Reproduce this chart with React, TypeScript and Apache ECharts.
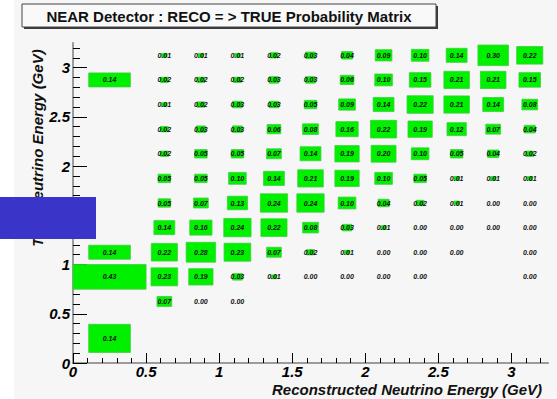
import React, { useEffect, useRef } from "react";
import * as echarts from "echarts";

// Bin edges (GeV), shared by both axes
const xEdges = [0, 0.5, 0.75, 1, 1.25, 1.5, 1.75, 2, 2.25, 2.5, 2.75, 3, 3.25];
const yEdges = [0, 0.5, 0.75, 1, 1.25, 1.5, 1.75, 2, 2.25, 2.5, 2.75, 3, 3.25];

// Probability matrix rows, bottom (true 0-0.5) to top (true 3.0-3.25); null = empty bin
const row00 = [0.14, null, null, null, null, null, null, null, null, null, null, null];
const row01 = [null, 0.07, 0.0, 0.0, null, null, null, null, null, null, null, null];
const row02 = [0.43, 0.23, 0.19, 0.03, 0.01, 0.0, 0.0, 0.0, 0.0, null, null, 0.0];
const row03 = [0.14, 0.22, 0.28, 0.23, 0.07, 0.02, 0.01, 0.0, 0.0, 0.0, null, 0.0];
const row04 = [null, 0.14, 0.16, 0.24, 0.22, 0.08, 0.03, 0.01, 0.0, 0.0, 0.0, 0.0];
const row05 = [null, 0.05, 0.07, 0.13, 0.24, 0.24, 0.1, 0.04, 0.02, 0.01, 0.0, 0.0];
const row06 = [null, 0.05, 0.05, 0.1, 0.14, 0.21, 0.19, 0.1, 0.05, 0.01, 0.01, 0.01];
const row07 = [null, 0.02, 0.05, 0.05, 0.07, 0.14, 0.19, 0.2, 0.1, 0.05, 0.04, 0.02];
const row08 = [null, 0.02, 0.03, 0.03, 0.06, 0.08, 0.16, 0.22, 0.19, 0.12, 0.07, 0.04];
const row09 = [null, 0.01, 0.02, 0.03, 0.03, 0.05, 0.09, 0.14, 0.22, 0.21, 0.14, 0.08];
const row10 = [0.14, 0.02, 0.02, 0.02, 0.03, 0.03, 0.06, 0.1, 0.15, 0.21, 0.21, 0.15];
const row11 = [null, 0.01, 0.01, 0.01, 0.02, 0.03, 0.04, 0.09, 0.1, 0.14, 0.3, 0.22];
const rows = [row00, row01, row02, row03, row04, row05, row06, row07, row08, row09, row10, row11];

const majorTicks = [0, 0.5, 1, 1.5, 2, 2.5, 3];
const minorTicks = [
  0.1, 0.2, 0.3, 0.4, 0.6, 0.7, 0.8, 0.9, 1.1, 1.2, 1.3, 1.4, 1.6, 1.7, 1.8, 1.9,
  2.1, 2.2, 2.3, 2.4, 2.6, 2.7, 2.8, 2.9, 3.1, 3.2,
];

const FONT = '"Liberation Sans", Arial, Helvetica, sans-serif';

export default function App() {
  const ref = useRef<HTMLDivElement>(null);
  useEffect(() => {
    if (!ref.current) return;
    const chart = echarts.init(ref.current, undefined, { renderer: "svg" });

    const data: number[][] = [];
    let vmax = 0;
    rows.forEach((r, j) =>
      r.forEach((v, i) => {
        if (v === null || v === undefined) return;
        data.push([xEdges[i], xEdges[i + 1], yEdges[j], yEdges[j + 1], v]);
        if (v > vmax) vmax = v;
      })
    );

    const labelStyle = {
      fontSize: 15,
      fontWeight: "bold" as const,
      fontStyle: "italic" as const,
      color: "#000",
      fontFamily: FONT,
    };

    const frameAxis = (pos: string) => ({
      type: "value",
      min: 0,
      max: 3.25,
      position: pos,
      axisLine: { show: true, lineStyle: { color: "#9c9c9c", width: 2 } },
      axisTick: { show: false },
      axisLabel: { show: false },
      splitLine: { show: false },
    });

    chart.setOption({
      animation: false,
      backgroundColor: "#f5f6f5",
      grid: { left: 73, top: 43, width: 475, height: 320 },
      xAxis: [
        {
          type: "value",
          min: 0,
          max: 3.25,
          position: "bottom",
          axisLine: { show: true, onZero: false, lineStyle: { color: "#000", width: 1 } },
          axisTick: { show: true, inside: true, length: 10, customValues: majorTicks, lineStyle: { color: "#000" } },
          axisLabel: { ...labelStyle, margin: 1, customValues: majorTicks, formatter: (v: number) => String(v) },
          splitLine: { show: false },
        },
        {
          type: "value",
          min: 0,
          max: 3.25,
          position: "bottom",
          axisLine: { show: false },
          axisTick: { show: true, inside: true, length: 5, customValues: minorTicks, lineStyle: { color: "#000" } },
          axisLabel: { show: false },
          splitLine: { show: false },
        },
        frameAxis("top"),
      ],
      yAxis: [
        {
          type: "value",
          min: 0,
          max: 3.25,
          position: "left",
          axisLine: { show: true, onZero: false, lineStyle: { color: "#000", width: 1 } },
          axisTick: { show: true, inside: true, length: 14, customValues: majorTicks, lineStyle: { color: "#000" } },
          axisLabel: { ...labelStyle, margin: 3, customValues: majorTicks, formatter: (v: number) => String(v) },
          splitLine: { show: false },
        },
        {
          type: "value",
          min: 0,
          max: 3.25,
          position: "left",
          axisLine: { show: false },
          axisTick: { show: true, inside: true, length: 7, customValues: minorTicks, lineStyle: { color: "#000" } },
          axisLabel: { show: false },
          splitLine: { show: false },
        },
        frameAxis("right"),
      ],
      series: [
        {
          type: "custom",
          xAxisIndex: 0,
          yAxisIndex: 0,
          encode: { x: [0, 1], y: [2, 3] },
          data,
          renderItem: (params: any, api: any) => {
            const p0 = api.coord([api.value(0), api.value(2)]);
            const p1 = api.coord([api.value(1), api.value(3)]);
            const v = api.value(4);
            const cx = (p0[0] + p1[0]) / 2;
            const cy = (p0[1] + p1[1]) / 2;
            const w = Math.abs(p1[0] - p0[0]);
            const h = Math.abs(p1[1] - p0[1]);
            const f = Math.sqrt(v / vmax);
            const children: any[] = [];
            if (v > 0) {
              children.push({
                type: "rect",
                shape: { x: cx - (w * f) / 2, y: cy - (h * f) / 2, width: w * f, height: h * f },
                style: { fill: "#00f000", stroke: "#3ccf3c", lineWidth: 0.8 },
              });
            }
            children.push({
              type: "text",
              style: {
                text: v.toFixed(2),
                x: cx,
                y: cy,
                align: "center",
                verticalAlign: "middle",
                font: `italic bold 7px ${FONT}`,
                fill: "#111",
              },
            });
            return { type: "group", children };
          },
        },
      ],
      graphic: [
        {
          type: "rect",
          z: 0,
          shape: { x: 0, y: 0, width: 14, height: 399 },
          style: { fill: "#ffffff" },
        },
        {
          type: "rect",
          z: 10,
          shape: { x: 24, y: 6, width: 414, height: 23 },
          style: { fill: "#3a3a3a" },
        },
        {
          type: "rect",
          z: 11,
          shape: { x: 22, y: 4, width: 414, height: 23 },
          style: { fill: "#f8f9f8", stroke: "#444", lineWidth: 1 },
        },
        {
          type: "text",
          z: 12,
          style: {
            text: "NEAR Detector : RECO = > TRUE Probability Matrix",
            x: 229,
            y: 16,
            align: "center",
            verticalAlign: "middle",
            font: `bold 15px ${FONT}`,
            fill: "#111",
          },
        },
        {
          type: "text",
          z: 12,
          x: 37,
          y: 148,
          rotation: Math.PI / 2,
          style: {
            text: "True Neutrino Energy (GeV)",
            x: 0,
            y: 0,
            align: "center",
            verticalAlign: "middle",
            font: `italic bold 15px ${FONT}`,
            fill: "#111",
          },
        },
        {
          type: "text",
          z: 12,
          style: {
            text: "Reconstructed Neutrino Energy (GeV)",
            x: 542,
            y: 389,
            align: "right",
            verticalAlign: "middle",
            font: `italic bold 15px ${FONT}`,
            fill: "#111",
          },
        },
        {
          type: "rect",
          z: 100,
          shape: { x: 0, y: 197, width: 96, height: 42 },
          style: { fill: "#3a34c8" },
        },
      ],
    });
    return () => chart.dispose();
  }, []);
  return <div ref={ref} style={{ position: "absolute", left: 0, top: 0, width: 557, height: 399 }} />;
}
